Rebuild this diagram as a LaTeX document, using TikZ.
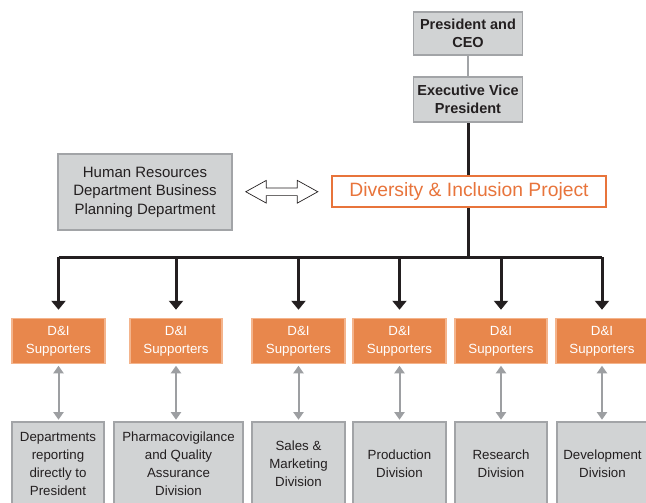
\documentclass[tikz,border=0pt]{standalone}
\usepackage{fontspec}
\setmainfont{Liberation Sans}
\usetikzlibrary{arrows.meta,shapes.arrows,backgrounds,calc}
\definecolor{boxfill}{HTML}{D1D3D4}
\definecolor{boxline}{HTML}{A2A4A7}
\definecolor{ink}{HTML}{231F20}
\definecolor{supfill}{HTML}{E8874C}
\definecolor{supline}{HTML}{F4B48C}
\definecolor{proj}{HTML}{E8743B}
\definecolor{linkgray}{HTML}{9D9FA2}
\begin{document}
\begin{tikzpicture}[x=1pt,y=-1pt,
    graybox/.style={draw=boxline,fill=boxfill,line width=1.6pt,inner sep=0pt,align=center,text=ink},
    topbox/.style={graybox,minimum width=109pt,font=\fontsize{14.5}{18}\selectfont\bfseries},
    supbox/.style={draw=supline,fill=supfill,line width=1.5pt,inner sep=0pt,align=center,text=white,minimum width=92pt,minimum height=45pt,font=\fontsize{13.3}{18}\selectfont},
    divbox/.style={graybox,minimum height=84pt,font=\fontsize{13.3}{18}\selectfont},
    busline/.style={draw=ink,line width=3pt},
    busarrow/.style={busline,-{Triangle[width=14pt,length=9pt]},shorten >=8pt},
    linkarrow/.style={draw=linkgray,line width=2pt,{Triangle[width=10pt,length=7.5pt]}-{Triangle[width=10pt,length=7.5pt]},shorten <=1.5pt,shorten >=1.5pt}]
    \useasboundingbox (0,0) rectangle (646,503);
    \clip (0,0) rectangle (646,503);
    % top of the chart
    \node [topbox,minimum height=43pt] (ceo) at (468,33.5) {President and\\CEO};
    \node [topbox,minimum height=45pt] (evp) at (468,99.5) {Executive Vice\\President};
    \node [graybox,minimum width=174pt,minimum height=76pt,font=\fontsize{15}{18.5}\selectfont] (hr) at (145,192) {Human Resources\\Department Business\\Planning Department};
    \node [draw=proj,fill=white,line width=2.4pt,text=proj,minimum width=274pt,minimum height=31pt,inner sep=0pt,font=\fontsize{19.3}{22}\selectfont] (dip) at (469,191.5) {Diversity \& Inclusion Project};
    \node [double arrow,draw=ink,fill=white,line width=0.7pt,minimum height=72pt,minimum width=22pt,inner sep=3.5pt,double arrow head extend=7.5pt,double arrow tip angle=58] (link) at ($(hr.east)!0.5!(dip.west)$) {};
    % supporters
    \node [supbox,minimum width=93pt] (sup1) at (58.5,341) {D\&I\\Supporters};
    \node [supbox] (sup2) at (176,341) {D\&I\\Supporters};
    \node [supbox,minimum width=93pt] (sup3) at (298.5,341) {D\&I\\Supporters};
    \node [supbox,minimum width=93pt] (sup4) at (399.5,341) {D\&I\\Supporters};
    \node [supbox] (sup5) at (501,341) {D\&I\\Supporters};
    \node [supbox] (sup6) at (602,341) {D\&I\\Supporters};
    % divisions
    \node [divbox,minimum width=92pt] (div1) at (58,464) {Departments\\reporting\\directly to\\President};
    \node [divbox,minimum width=129pt] (div2) at (178.5,464) {Pharmacovigilance\\and Quality\\Assurance\\Division};
    \node [divbox,minimum width=93pt] (div3) at (298.5,464) {Sales \&\\Marketing\\Division};
    \node [divbox,minimum width=93pt] (div4) at (399.5,464) {Production\\Division};
    \node [divbox,minimum width=92pt] (div5) at (501,464) {Research\\Division};
    \node [divbox,minimum width=91pt] (div6) at (602.5,464) {Development\\Division};
    \coordinate (busL) at (sup1.north |- 0,257);
    \coordinate (busR) at (sup6.north |- 0,257);
    \begin{scope}[on background layer]
      \draw [draw=boxline,line width=1.8pt] (ceo) -- (evp);
      \draw [busline] (evp.south) -- (evp.south |- busL);
      \draw [busline] (busL) -- (busR);
      \foreach \i in {1,...,6} {
        \draw [busarrow] (sup\i.north |- busL) -- (sup\i.north);
        \draw [linkarrow] (sup\i.south) -- (sup\i.south |- div\i.north);
      }
    \end{scope}
  \end{tikzpicture}
\end{document}
